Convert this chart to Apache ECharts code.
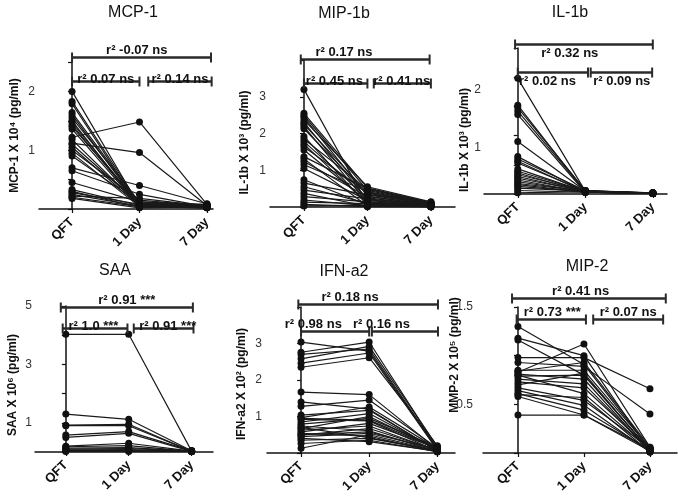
<!DOCTYPE html>
<html><head><meta charset="utf-8">
<script src="https://cdn.jsdelivr.net/npm/echarts@6/dist/echarts.min.js"></script>
<style>html,body{margin:0;padding:0;background:#fff}#c{width:678px;height:503px}</style>
</head><body><div id="c"></div>
<script>
const categories = ['QFT', '1 Day', '7 Day'];

const mcp1QFT  = [2.0, 1.83, 1.79, 1.64, 1.6, 1.55, 1.5, 1.47, 1.43, 1.4, 1.36, 1.22, 1.18, 1.12, 1.1, 1.05, 1.0, 0.95, 0.9, 0.7, 0.65, 0.45, 0.33, 0.3, 0.28, 0.25, 0.22, 0.2, 0.18];
const mcp1Day1 = [0.05, 0.08, 0.04, 0.1, 0.06, 0.12, 0.03, 0.07, 0.05, 0.09, 0.04, 1.48, 0.06, 0.96, 0.08, 0.05, 0.15, 0.04, 0.1, 0.4, 0.25, 0.12, 0.06, 0.03, 0.08, 0.05, 0.18, 0.04, 0.02];
const mcp1Day7 = [0.03, 0.05, 0.04, 0.06, 0.02, 0.08, 0.03, 0.05, 0.04, 0.07, 0.03, 0.08, 0.05, 0.06, 0.04, 0.03, 0.05, 0.02, 0.06, 0.09, 0.04, 0.05, 0.03, 0.04, 0.06, 0.02, 0.05, 0.03, 0.04];

const mip1bQFT  = [3.2, 2.55, 2.49, 2.44, 2.37, 2.3, 2.25, 2.19, 2.13, 1.92, 1.85, 1.78, 1.71, 1.64, 1.55, 1.37, 1.31, 1.24, 1.15, 1.05, 0.74, 0.65, 0.55, 0.46, 0.37, 0.28, 0.19, 0.13, 0.07, 0.03];
const mip1bDay1 = [0.08, 0.52, 0.45, 0.3, 0.55, 0.2, 0.4, 0.12, 0.35, 0.05, 0.48, 0.25, 0.1, 0.38, 0.15, 0.5, 0.03, 0.28, 0.42, 0.18, 0.06, 0.33, 0.1, 0.22, 0.02, 0.14, 0.04, 0.09, 0.01, 0.05];
const mip1bDay7 = [0.02, 0.12, 0.1, 0.06, 0.14, 0.04, 0.09, 0.03, 0.08, 0.01, 0.11, 0.05, 0.02, 0.07, 0.03, 0.13, 0.01, 0.06, 0.1, 0.04, 0.02, 0.08, 0.03, 0.05, 0.01, 0.03, 0.02, 0.02, 0.01, 0.01];

const il1bQFT  = [1.98, 1.52, 1.48, 1.42, 1.36, 0.9, 0.64, 0.6, 0.56, 0.53, 0.43, 0.39, 0.36, 0.33, 0.3, 0.27, 0.24, 0.21, 0.18, 0.16, 0.13, 0.1, 0.06, 0.02];
const il1bDay1 = [0.05, 0.04, 0.06, 0.05, 0.03, 0.05, 0.04, 0.06, 0.03, 0.05, 0.04, 0.05, 0.03, 0.06, 0.04, 0.05, 0.03, 0.04, 0.05, 0.03, 0.04, 0.05, 0.03, 0.04];
const il1bDay7 = [0.01, 0.02, 0.01, 0.01, 0.02, 0.01, 0.01, 0.02, 0.01, 0.01, 0.02, 0.01, 0.01, 0.01, 0.02, 0.01, 0.01, 0.02, 0.01, 0.01, 0.01, 0.02, 0.01, 0.01];

const saaQFT  = [4.03, 1.3, 0.92, 0.9, 0.58, 0.5, 0.2, 0.18, 0.13, 0.1, 0.07, 0.05, 0.03, 0.02];
const saaDay1 = [4.03, 1.12, 0.95, 0.9, 0.7, 0.64, 0.3, 0.22, 0.15, 0.12, 0.08, 0.05, 0.04, 0.02];
const saaDay7 = [0.03, 0.04, 0.02, 0.03, 0.04, 0.02, 0.03, 0.02, 0.03, 0.02, 0.03, 0.02, 0.02, 0.03];

const ifnQFT  = [3.04, 2.76, 2.7, 2.58, 2.46, 2.35, 1.67, 1.4, 1.28, 1.04, 0.97, 0.92, 0.85, 0.79, 0.74, 0.67, 0.63, 0.58, 0.54, 0.49, 0.45, 0.4, 0.35, 0.26, 0.13, 0.95, 0.7, 0.5];
const ifnDay1 = [2.79, 3.04, 2.85, 2.92, 2.74, 2.61, 1.6, 1.2, 1.45, 1.17, 1.26, 0.88, 1.08, 0.95, 0.61, 1.0, 0.74, 0.81, 0.46, 0.67, 0.54, 0.31, 0.4, 0.35, 0.5, 0.9, 0.42, 0.58];
const ifnDay7 = [0.1, 0.15, 0.12, 0.18, 0.08, 0.2, 0.1, 0.05, 0.14, 0.07, 0.12, 0.05, 0.09, 0.16, 0.04, 0.1, 0.06, 0.13, 0.03, 0.08, 0.11, 0.05, 0.07, 0.04, 0.06, 0.12, 0.05, 0.09];

const mip2QFT  = [1.30, 1.18, 1.16, 0.98, 0.93, 0.85, 0.83, 0.81, 0.79, 0.76, 0.73, 0.67, 0.64, 0.61, 0.58, 0.39, 0.84, 0.8, 0.7, 0.6];
const mip2Day1 = [0.91, 1.0, 0.8, 0.98, 0.89, 0.85, 1.12, 0.76, 0.8, 0.71, 0.67, 0.54, 0.49, 0.44, 0.39, 0.39, 0.93, 0.61, 0.82, 0.57];
const mip2Day7 = [0.04, 0.02, 0.03, 0.66, 0.4, 0.05, 0.06, 0.01, 0.03, 0.02, 0.04, 0.05, 0.01, 0.03, 0.02, 0.04, 0.06, 0.03, 0.02, 0.01];

// significance brackets: [fromX, toX, level, labelX, text, textMode]
const mcp1Brackets  = [[0, 2.06, 2.59, 0.96, 'r² -0.07 ns', 'above'], [0, 1.0, 2.17, 0.5, 'r² 0.07 ns', 'on'], [1.13, 2.07, 2.17, 1.6, 'r² 0.14 ns', 'on']];
const mip1bBrackets = [[-0.05, 1.98, 4.03, 0.63, 'r² 0.17 ns', 'above'], [0, 1.0, 3.38, 0.48, 'r² 0.45 ns', 'on'], [1.1, 2.0, 3.38, 1.54, 'r² 0.41 ns', 'on']];
const il1bBrackets  = [[-0.04, 2.0, 2.57, 0.77, 'r² 0.32 ns', 'below'], [0, 1.04, 2.09, 0.44, 'r² 0.02 ns', 'below'], [1.08, 1.99, 2.09, 1.54, 'r² 0.09 ns', 'below']];
const saaBrackets   = [[-0.08, 2.02, 4.96, 0.97, 'r² 0.91 ***', 'above'], [-0.05, 0.98, 4.24, 0.44, 'r² 1.0 ***', 'on'], [1.08, 2.03, 4.24, 1.62, 'r² 0.91 ***', 'on']];
const ifnBrackets   = [[-0.04, 2.01, 4.09, 0.72, 'r² 0.18 ns', 'above'], [0, 1.0, 3.35, 0.18, 'r² 0.98 ns', 'above'], [1.04, 2.01, 3.35, 1.18, 'r² 0.16 ns', 'above']];
const mip2Brackets  = [[-0.09, 2.24, 1.59, 0.95, 'r² 0.41 ns', 'above'], [-0.02, 1.03, 1.38, 0.52, 'r² 0.73 ***', 'above'], [1.14, 2.2, 1.38, 1.67, 'r² 0.07 ns', 'above']];

const panels = [
  {title: 'MCP-1', yName: 'MCP-1 X 10⁴ (pg/ml)', qft: mcp1QFT, d1: mcp1Day1, d7: mcp1Day7, br: mcp1Brackets, yLabels: [1, 2],
   grid: {left: 39, top: 62, width: 174, height: 147}, xMin: -0.49, xMax: 2.09, yMax: 2.5, yInt: 0.5,
   titlePos: [133, 5], nameGap: 18, namePad: [0, 0, 0, 0], labelMargin: 4, labelShift: 0},
  {title: 'MIP-1b', yName: 'IL-1b X 10³ (pg/ml)', qft: mip1bQFT, d1: mip1bDay1, d7: mip1bDay7, br: mip1bBrackets, yLabels: [1, 2, 3],
   grid: {left: 270, top: 60, width: 185, height: 147}, xMin: -0.535, xMax: 2.38, yMax: 4, yInt: 1,
   titlePos: [344, 6], nameGap: 19, namePad: [0, 18, 0, 0], labelMargin: 4, labelShift: 0},
  {title: 'IL-1b', yName: 'IL-1b X 10³ (pg/ml)', qft: il1bQFT, d1: il1bDay1, d7: il1bDay7, br: il1bBrackets, yLabels: [1, 2],
   grid: {left: 484, top: 48, width: 183, height: 146}, xMin: -0.5, xMax: 2.21, yMax: 2.5, yInt: 0.5,
   titlePos: [570, 5], nameGap: 13, namePad: [0, 38, 0, 0], labelMargin: 3, labelShift: 6},
  {title: 'SAA', yName: 'SAA X 10⁶ (pg/ml)', qft: saaQFT, d1: saaDay1, d7: saaDay7, br: saaBrackets, yLabels: [1, 3, 5],
   grid: {left: 35, top: 306, width: 178, height: 146}, xMin: -0.49, xMax: 2.34, yMax: 5, yInt: 1,
   titlePos: [115, 263], nameGap: 16, namePad: [0, 12, 0, 0], labelMargin: 3, labelShift: 0},
  {title: 'IFN-a2', yName: 'IFN-a2 X 10² (pg/ml)', qft: ifnQFT, d1: ifnDay1, d7: ifnDay7, br: ifnBrackets, yLabels: [1, 2, 3],
   grid: {left: 267, top: 307, width: 188, height: 146}, xMin: -0.5, xMax: 2.26, yMax: 4, yInt: 1,
   titlePos: [344, 264], nameGap: 19, namePad: [0, 8, 0, 0], labelMargin: 5, labelShift: 0},
  {title: 'MIP-2', yName: 'MMP-2 X 10⁵ (pg/ml)', qft: mip2QFT, d1: mip2Day1, d7: mip2Day7, br: mip2Brackets, yLabels: [0.5, 1.5],
   grid: {left: 483, top: 307, width: 194, height: 146}, xMin: -0.53, xMax: 2.41, yMax: 1.5, yInt: 0.5,
   titlePos: [587, 259], nameGap: 22, namePad: [0, 0, 0, 50], labelMargin: 10, labelShift: 0}
];

const FONT = '"Liberation Sans", Arial, sans-serif';
const INK = '#111';

function bracketRenderer(list) {
  return function (params, api) {
    const b = list[params.dataIndex];
    const p1 = api.coord([b[0], b[2]]);
    const p2 = api.coord([b[1], b[2]]);
    const pt = api.coord([b[3], b[2]]);
    const y = Math.round(p1[1]) + 0.5;
    const mode = b[5];
    let ty, va;
    if (mode === 'above') { ty = y - 1; va = 'bottom'; }
    else if (mode === 'on') { ty = y + 4; va = 'bottom'; }
    else { ty = y + 2; va = 'top'; }
    return {
      type: 'group',
      children: [
        {type: 'line', shape: {x1: p1[0], y1: y, x2: p2[0], y2: y}, style: {stroke: '#2a2a2a', lineWidth: 2.6}},
        {type: 'line', shape: {x1: p1[0], y1: y - 5, x2: p1[0], y2: y + 5}, style: {stroke: '#2a2a2a', lineWidth: 2}},
        {type: 'line', shape: {x1: p2[0], y1: y - 5, x2: p2[0], y2: y + 5}, style: {stroke: '#2a2a2a', lineWidth: 2}},
        {type: 'text', style: {text: b[4], x: pt[0], y: ty, align: 'center', verticalAlign: va,
          font: 'bold 13px ' + FONT, fill: INK}}
      ]
    };
  };
}

const option = {
  animation: false,
  backgroundColor: '#fff',
  title: [], grid: [], xAxis: [], yAxis: [], series: []
};

panels.forEach((p, i) => {
  option.title.push({text: p.title, left: p.titlePos[0], top: p.titlePos[1], textAlign: 'center', padding: 0,
    textStyle: {fontFamily: FONT, fontSize: 16, fontWeight: 'normal', color: INK}});
  option.grid.push(Object.assign({containLabel: false}, p.grid));
  option.xAxis.push({
    type: 'value', gridIndex: i, min: p.xMin, max: p.xMax,
    axisLine: {show: true, onZero: false, lineStyle: {color: INK, width: 1.5}},
    axisTick: {show: true, customValues: [0, 1, 2], length: 4, lineStyle: {color: INK, width: 1.2}},
    axisLabel: {customValues: [0, 1, 2], formatter: v => categories[Math.round(v)] || '', rotate: 45, margin: 11,
      fontFamily: FONT, fontSize: 13, fontWeight: 'bold', color: INK},
    splitLine: {show: false}
  });
  const shown = p.yLabels;
  option.yAxis.push({
    type: 'value', gridIndex: i, min: 0, max: p.yMax, interval: p.yInt,
    name: p.yName, nameLocation: 'middle', nameGap: p.nameGap, nameRotate: 90, nameMoveOverlap: false,
    nameTextStyle: {fontFamily: FONT, fontSize: 12, fontWeight: 'bold', color: INK, padding: p.namePad},
    axisLine: {show: true, lineStyle: {color: INK, width: 1.5}},
    axisTick: {show: true, length: 4, lineStyle: {color: INK, width: 1.2}},
    axisLabel: {
      margin: p.labelMargin, fontFamily: FONT, fontSize: 12, color: '#333',
      verticalAlign: p.labelShift ? 'top' : 'middle', padding: [p.labelShift, 0, 0, 0],
      formatter: v => shown.some(s => Math.abs(s - v) < 1e-6) ? String(v) : ''
    },
    splitLine: {show: false}
  });
  for (let k = 0; k < p.qft.length; k++) {
    option.series.push({
      type: 'line', xAxisIndex: i, yAxisIndex: i, silent: true, clip: false,
      data: [[0, p.qft[k]], [1, p.d1[k]], [2, p.d7[k]]],
      symbol: 'circle', symbolSize: 7,
      lineStyle: {color: '#1a1a1a', width: 1.2},
      itemStyle: {color: '#111'}
    });
  }
  option.series.push({
    type: 'custom', xAxisIndex: i, yAxisIndex: i, silent: true, clip: false,
    data: p.br.map(b => [b[0], b[1], b[2], b[3]]),
    encode: {x: [0, 1, 3], y: 2},
    renderItem: bracketRenderer(p.br),
    z: 5
  });
});

const chart = echarts.init(document.getElementById('c'), null, {renderer: 'canvas'});
chart.setOption(option);
</script>
</body></html>
